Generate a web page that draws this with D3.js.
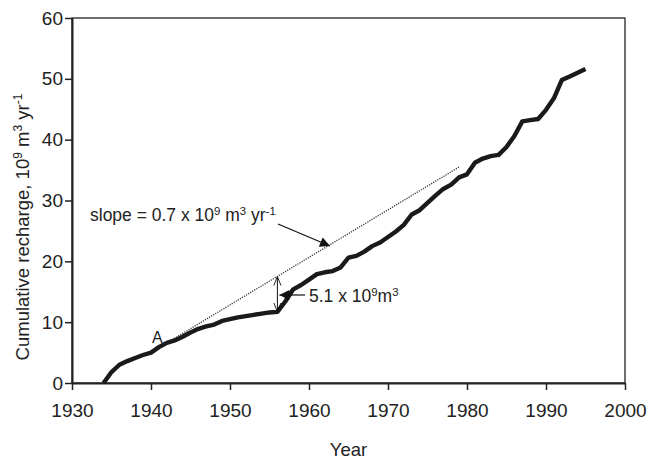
<!DOCTYPE html>
<html>
<head>
<meta charset="utf-8">
<script src="https://cdn.jsdelivr.net/npm/d3@7"></script>
<style>
  body { margin: 0; background: #fff; }
  text { font-family: "Liberation Sans", Arial, sans-serif; fill: #222; }
</style>
</head>
<body>
<svg id="chart" width="648" height="460"></svg>
<script>
// cumulative recharge (10^9 m3)
var years = [1934, 1935, 1936, 1937, 1938, 1939, 1940, 1941, 1942, 1943, 1944, 1945, 1946, 1947, 1948, 1949,
  1950, 1951, 1952, 1953, 1954, 1955, 1956, 1957, 1958, 1959, 1960, 1961, 1962, 1963, 1964, 1965,
  1966, 1967, 1968, 1969, 1970, 1971, 1972, 1973, 1974, 1975, 1976, 1977, 1978, 1979, 1980, 1981,
  1982, 1983, 1984, 1985, 1986, 1987, 1988, 1989, 1990, 1991, 1992, 1993, 1994, 1995];
var recharge = [0, 1.8, 3.0, 3.6, 4.1, 4.6, 5.0, 5.9, 6.6, 7.0, 7.6, 8.3, 8.9, 9.3, 9.6, 10.2,
  10.5, 10.8, 11.0, 11.2, 11.4, 11.6, 11.7, 13.4, 15.4, 16.1, 17.0, 17.9, 18.2, 18.4, 19.0, 20.6,
  20.9, 21.6, 22.5, 23.1, 24.0, 24.9, 26.0, 27.7, 28.4, 29.6, 30.8, 31.9, 32.6, 33.8, 34.3, 36.2,
  36.9, 37.3, 37.5, 38.8, 40.6, 43.0, 43.2, 43.4, 44.9, 46.8, 49.8, 50.4, 51.0, 51.6];

var xTicks = [1930, 1940, 1950, 1960, 1970, 1980, 1990, 2000];
var yTicks = [0, 10, 20, 30, 40, 50, 60];

// trend line from point A, and the 1956 departure
var trendStart = [1942.4, 6.9];
var trendEnd = [1979, 35.5];
var gapYear = 1956;
var gapLow = 11.7;
var gapHigh = 17.5;

var svg = d3.select("#chart");

var x = d3.scaleLinear().domain([1930, 2000]).range([72, 625]);
var y = d3.scaleLinear().domain([0, 60]).range([383, 18]);

var defs = svg.append("defs");
defs.append("marker").attr("id", "solidHead").attr("viewBox", "0 0 10 10")
  .attr("refX", 10).attr("refY", 5).attr("markerWidth", 11).attr("markerHeight", 10)
  .attr("markerUnits", "userSpaceOnUse").attr("orient", "auto")
  .append("path").attr("d", "M0,0 L10,5 L0,10 Z").attr("fill", "#111");
defs.append("marker").attr("id", "openHead").attr("viewBox", "0 0 10 10")
  .attr("refX", 10).attr("refY", 5).attr("markerWidth", 9).attr("markerHeight", 9)
  .attr("markerUnits", "userSpaceOnUse").attr("orient", "auto-start-reverse")
  .append("path").attr("d", "M0,1 L10,5 L0,9").attr("fill", "none").attr("stroke", "#111").attr("stroke-width", 1);

// frame
svg.append("rect").attr("x", x(1930)).attr("y", y(60))
  .attr("width", x(2000) - x(1930)).attr("height", y(0) - y(60))
  .attr("fill", "none").attr("stroke", "#222").attr("stroke-width", 1.3);

var xAxis = svg.append("g").attr("transform", "translate(0," + y(0) + ")")
  .call(d3.axisBottom(x).tickValues(xTicks).tickFormat(d3.format("d")).tickSize(7).tickSizeOuter(0).tickPadding(14));
var yAxis = svg.append("g").attr("transform", "translate(" + x(1930) + ",0)")
  .call(d3.axisLeft(y).tickValues(yTicks).tickSize(7).tickSizeOuter(0).tickPadding(2));

[xAxis, yAxis].forEach(function (g) {
  g.select(".domain").attr("stroke", "#222").attr("stroke-width", 2);
  g.selectAll(".tick line").attr("stroke", "#222").attr("stroke-width", 1.5);
  g.selectAll(".tick text").attr("font-size", 19).attr("fill", "#222")
    .attr("font-family", "Liberation Sans, Arial, sans-serif");
});

// axis titles
svg.append("text").attr("x", (x(1930) + x(2000)) / 2).attr("y", 456)
  .attr("text-anchor", "middle").attr("font-size", 18.5).text("Year");

function richText(g, parts, size) {
  var t = g.append("text").attr("font-size", size);
  parts.forEach(function (p) {
    if (p[1]) {
      t.append("tspan").attr("font-size", size * 0.65).attr("baseline-shift", "55%").text(p[0]);
    } else {
      t.append("tspan").text(p[0]);
    }
  });
  return t;
}

var yTitle = svg.append("g").attr("transform", "translate(29,227) rotate(-90)");
richText(yTitle, [["Cumulative recharge, 10"], ["9", true], [" m"], ["3", true], [" yr"], ["-1", true]], 18.5)
  .attr("text-anchor", "middle");

// trend line
svg.append("line")
  .attr("x1", x(trendStart[0])).attr("y1", y(trendStart[1]))
  .attr("x2", x(trendEnd[0])).attr("y2", y(trendEnd[1]))
  .attr("stroke", "#333").attr("stroke-width", 1.3).attr("stroke-dasharray", "1.2,1.2");

// recharge line
var line = d3.line().x(function (d, i) { return x(years[i]); }).y(function (d) { return y(d); });
svg.append("path").datum(recharge).attr("d", line)
  .attr("fill", "none").attr("stroke", "#1a1a1a").attr("stroke-width", 4.4).attr("stroke-linejoin", "round");

// double arrow at 1956
svg.append("line")
  .attr("x1", x(gapYear)).attr("y1", y(gapLow)).attr("x2", x(gapYear)).attr("y2", y(gapHigh))
  .attr("stroke", "#111").attr("stroke-width", 1)
  .attr("marker-start", "url(#openHead)").attr("marker-end", "url(#openHead)");

// labels
svg.append("text").attr("x", 152).attr("y", 343).attr("font-size", 16).text("A");

var slopeLabel = svg.append("g").attr("transform", "translate(90,221)");
richText(slopeLabel, [["slope = 0.7 x 10"], ["9", true], [" m"], ["3", true], [" yr"], ["-1", true]], 17.5);
svg.append("line").attr("x1", 278).attr("y1", 224).attr("x2", 330).attr("y2", 246)
  .attr("stroke", "#111").attr("stroke-width", 1.2).attr("marker-end", "url(#solidHead)");

var gapLabel = svg.append("g").attr("transform", "translate(309,302)");
richText(gapLabel, [["5.1 x 10"], ["9", true], ["m"], ["3", true]], 17.5);
svg.append("line").attr("x1", 305).attr("y1", 295).attr("x2", x(gapYear) + 2).attr("y2", 295)
  .attr("stroke", "#111").attr("stroke-width", 1.2).attr("marker-end", "url(#solidHead)");
</script>
</body>
</html>
